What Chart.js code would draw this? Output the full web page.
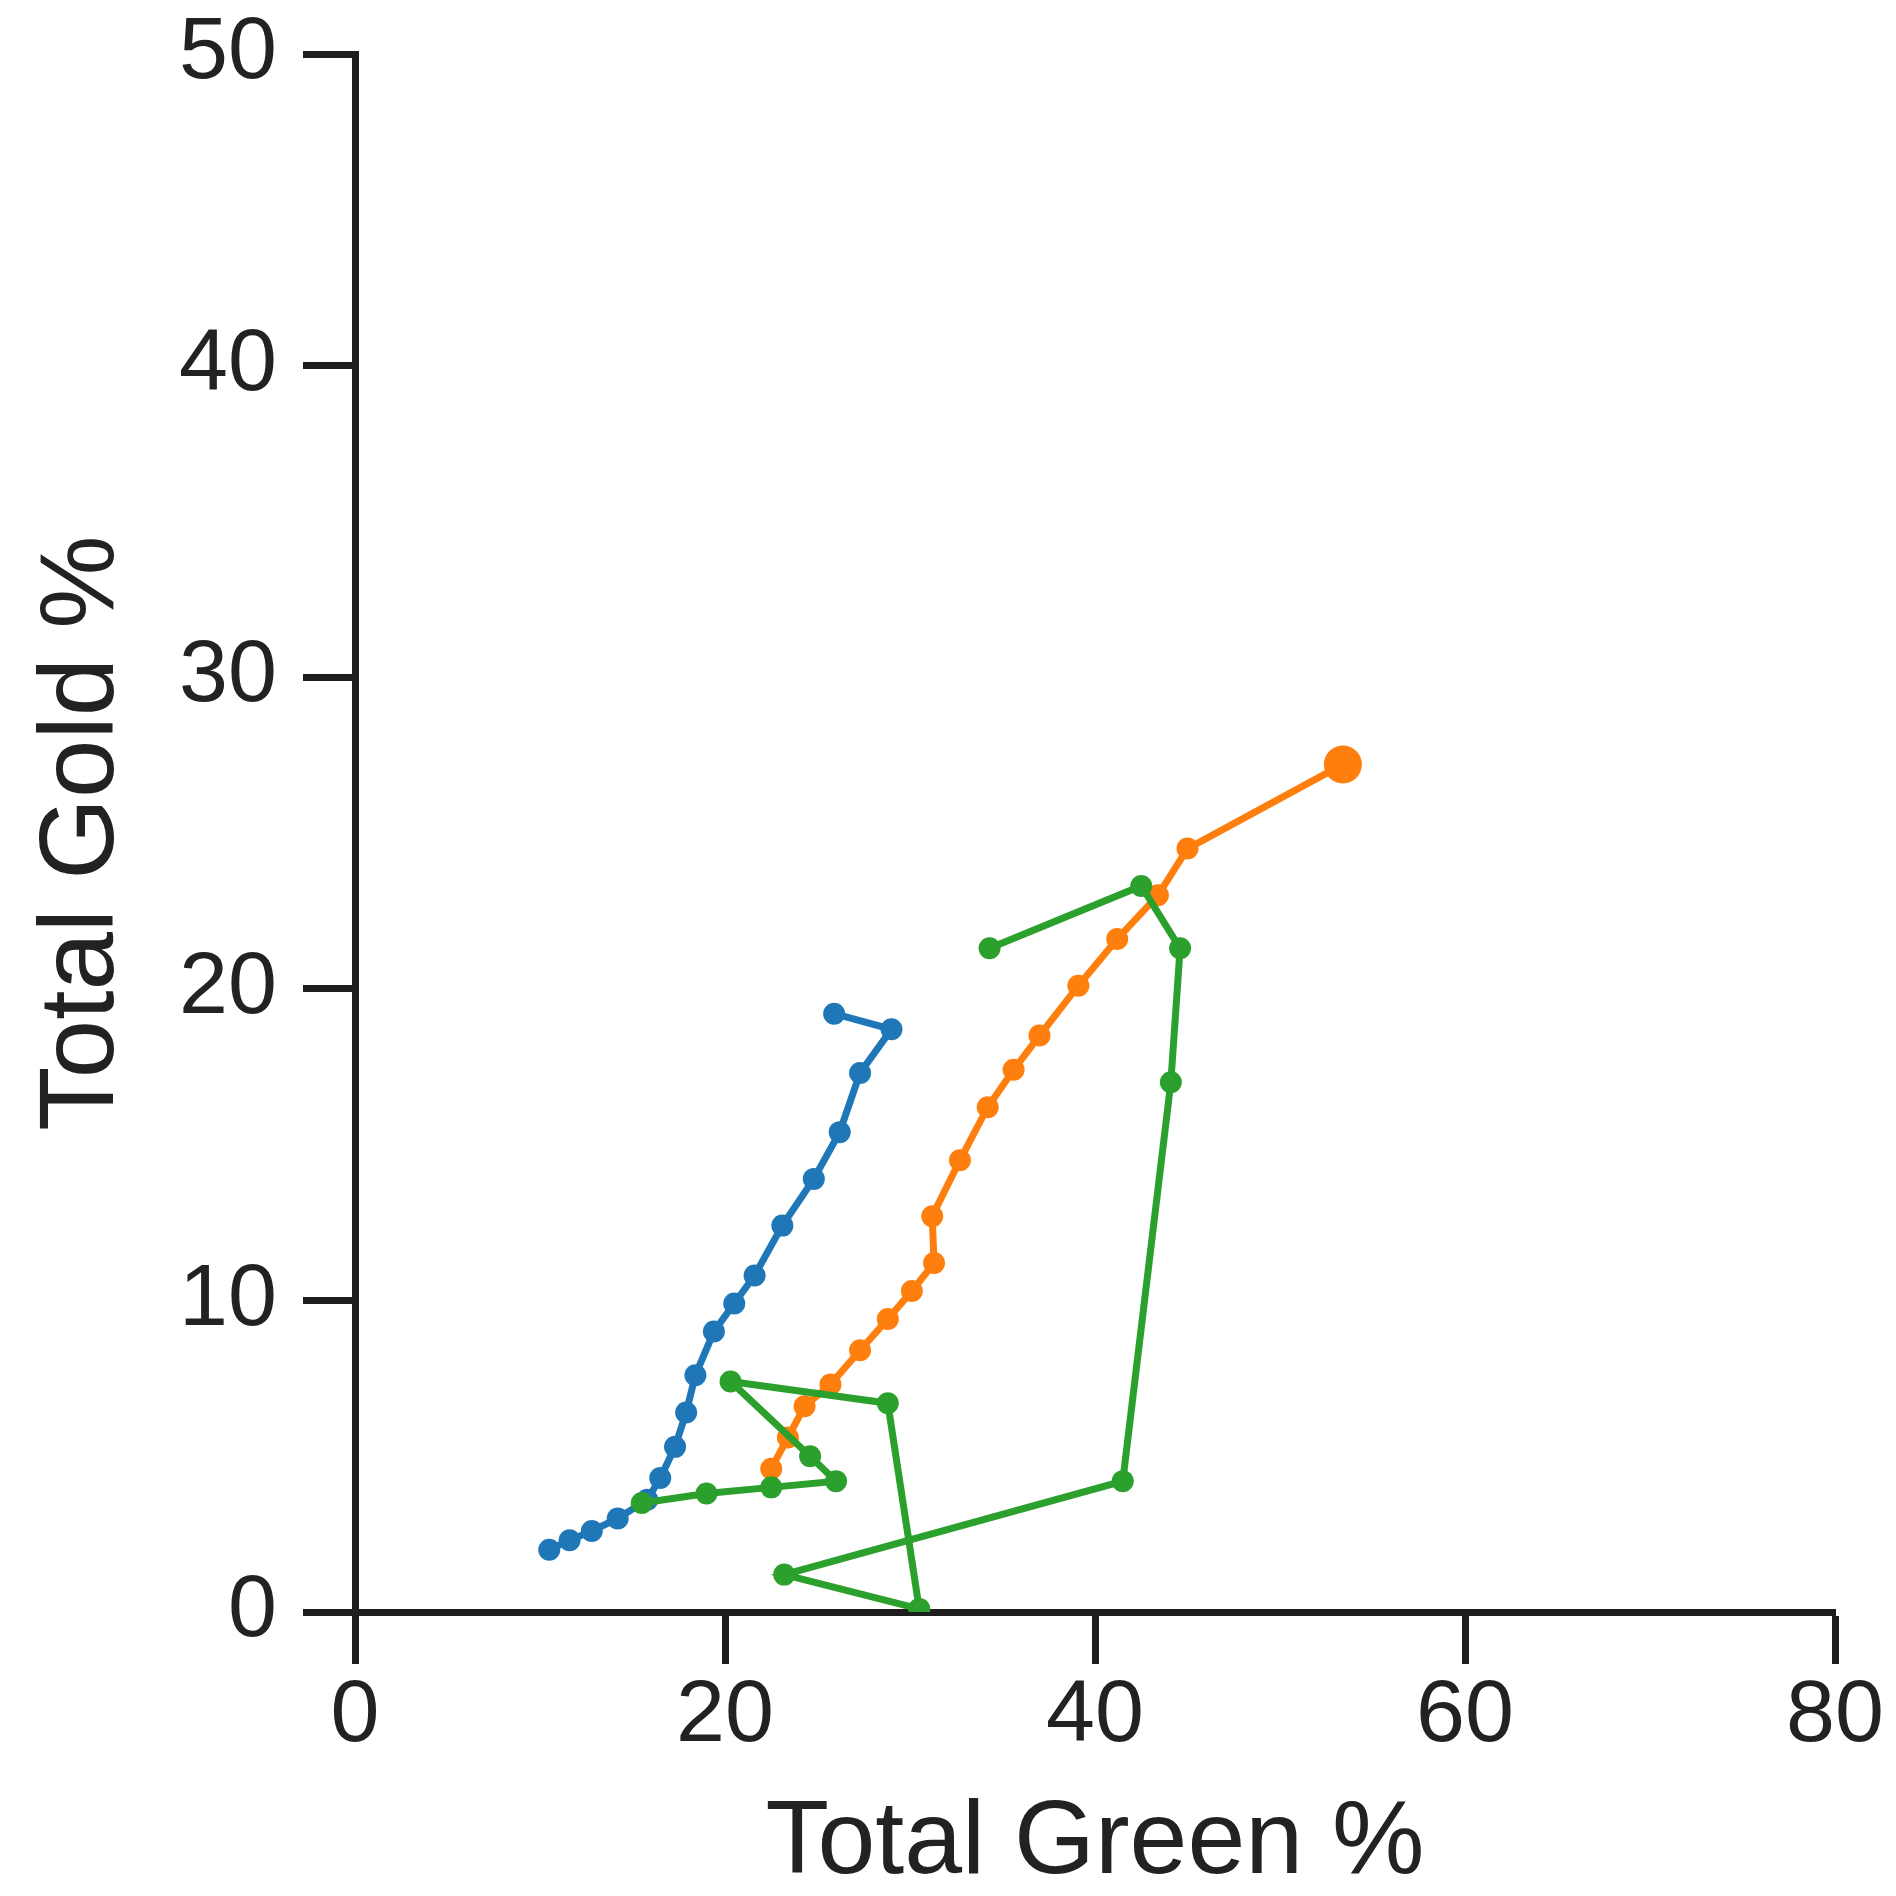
<!DOCTYPE html>
<html>
<head>
<meta charset="utf-8">
<script src="https://cdn.jsdelivr.net/npm/chart.js@4/dist/chart.umd.min.js"></script>
<style>
  html, body { margin: 0; padding: 0; background: #ffffff; }
  #wrap { width: 1896px; height: 1896px; }
</style>
</head>
<body>
<div id="wrap"><canvas id="c" width="1896" height="1896"></canvas></div>
<script>
const xTicks = [0, 20, 40, 60, 80];
const yTicks = [0, 10, 20, 30, 40, 50];

const blueX = [10.5, 11.6, 12.8, 14.2, 15.8, 16.5, 17.3, 17.9, 18.4, 19.4, 20.5, 21.6, 23.1, 24.8, 26.2, 27.3, 29.0, 25.9];
const blueY = [2.0, 2.3, 2.6, 3.0, 3.6, 4.3, 5.3, 6.4, 7.6, 9.0, 9.9, 10.8, 12.4, 13.9, 15.4, 17.3, 18.7, 19.2];

const orangeX = [22.5, 23.4, 24.3, 25.7, 27.3, 28.8, 30.1, 31.3, 31.2, 32.7, 34.2, 35.6, 37.0, 39.1, 41.2, 43.4, 45.0, 53.4];
const orangeY = [4.6, 5.6, 6.6, 7.3, 8.4, 9.4, 10.3, 11.2, 12.7, 14.5, 16.2, 17.4, 18.5, 20.1, 21.6, 23.0, 24.5, 27.2];

const greenX = [15.5, 19.0, 22.5, 26.0, 24.6, 20.3, 28.8, 30.5, 23.2, 41.5, 44.1, 44.6, 42.5, 34.3];
const greenY = [3.5, 3.8, 4.0, 4.2, 5.0, 7.4, 6.7, 0.1, 1.2, 4.2, 17.0, 21.3, 23.3, 21.3];

const toPts = (xs, ys) => xs.map((x, i) => ({ x: x, y: ys[i] }));

const axisColor = '#1e1e1e';
const textColor = '#222222';

function series(xs, ys, color, order, lastRadius) {
  return {
    data: toPts(xs, ys),
    showLine: true,
    borderColor: color,
    backgroundColor: color,
    borderWidth: 7,
    pointRadius: (ctx) => (ctx.dataIndex === xs.length - 1 && lastRadius ? lastRadius : 11),
    pointBorderWidth: 0,
    pointStyle: 'circle',
    tension: 0,
    order: order
  };
}

new Chart(document.getElementById('c'), {
  type: 'scatter',
  data: {
    datasets: [
      series(greenX, greenY, '#2ca02c', 1, 0),
      series(orangeX, orangeY, '#ff7f0e', 2, 19),
      series(blueX, blueY, '#2077b7', 3, 0)
    ]
  },
  options: {
    responsive: false,
    animation: false,
    devicePixelRatio: 1,
    layout: { padding: { left: 32, right: 61, top: 54, bottom: 0 } },
    plugins: { legend: { display: false }, tooltip: { enabled: false } },
    scales: {
      x: {
        type: 'linear',
        min: 0, max: 80,
        afterBuildTicks: (s) => { s.ticks = xTicks.map(v => ({ value: v })); },
        afterFit: (s) => { s.height = 284; s.paddingLeft = 0; s.paddingRight = 0; },
        border: { display: true, color: axisColor, width: 7 },
        grid: { drawOnChartArea: false, drawTicks: true, tickLength: 52, tickWidth: 7, tickColor: axisColor },
        ticks: { color: textColor, padding: 0, font: { family: 'Liberation Sans', size: 88 } },
        title: { display: true, text: 'Total Green %', color: textColor, padding: 0,
                 font: { family: 'Liberation Sans', size: 104, lineHeight: 1.0 } }
      },
      y: {
        type: 'linear',
        min: 0, max: 50,
        afterBuildTicks: (s) => { s.ticks = yTicks.map(v => ({ value: v })); },
        afterFit: (s) => { s.width = 323; s.paddingTop = 0; s.paddingBottom = 0; },
        border: { display: true, color: axisColor, width: 7 },
        grid: { drawOnChartArea: false, drawTicks: true, tickLength: 52, tickWidth: 7, tickColor: axisColor },
        ticks: { color: textColor, padding: 26, font: { family: 'Liberation Sans', size: 88 } },
        title: { display: true, text: 'Total Gold %', color: textColor, padding: 0,
                 font: { family: 'Liberation Sans', size: 105, lineHeight: 1.0 } }
      }
    }
  }
});
</script>
</body>
</html>
